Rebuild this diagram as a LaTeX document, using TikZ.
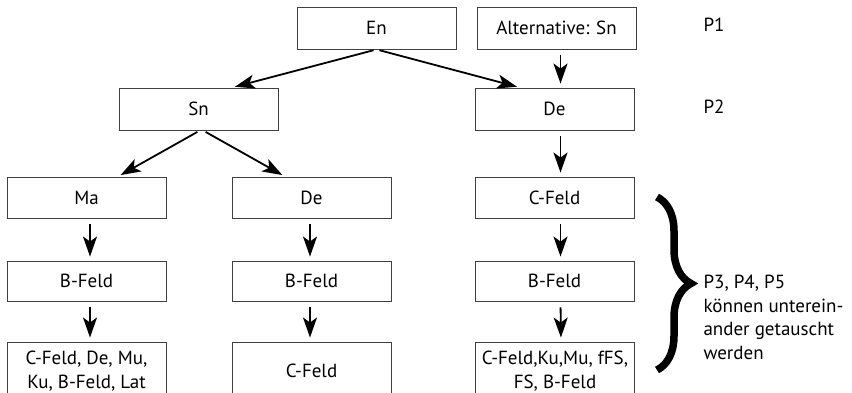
\documentclass[tikz,border=0pt]{standalone}
\usepackage{fontspec}
\setmainfont{PT Sans}
\usetikzlibrary{positioning}
\usetikzlibrary{arrows.meta}
\usetikzlibrary{decorations.pathreplacing}
\tikzset{
    mybox/.style = {rectangle, draw=black!75, line width=0.9pt, minimum width=159pt, minimum height=41pt, inner sep=2pt, align=center, font=\fontsize{19}{23.5}\selectfont},
    mylabel/.style = {anchor=west, align=left, font=\fontsize{19}{23.5}\selectfont},
    edgen/.style = {-{Stealth[length=20pt,width=14pt,inset=5pt]}, line width=1.8pt, shorten <=3pt, shorten >=3pt},
    edgev/.style = {edgen, shorten <=6pt, shorten >=4pt},
    bracen/.style = {decorate, decoration={brace, amplitude=34pt}, line width=7.5pt},
}

\begin{document}
\begin{tikzpicture}[x=1pt, y=-1pt]
\useasboundingbox (0,0) rectangle (852,393);
% level P1
\node[mybox, minimum height=42pt] at (376.5, 28) (en) {En};
\node[mybox, minimum height=42pt] at (556.5, 28) (alt) {Alternative: Sn};
% level P2
\node[mybox, minimum height=42pt] at (198.5, 109) (sn) {Sn};
\node[mybox, minimum height=42pt] at (554.5, 109) (der) {De};
% third row
\node[mybox] at (86.5, 197.5) (ma) {Ma};
\node[mybox] at (311.5, 197.5) (del) {De};
\node[mybox] at (554.5, 197.5) (cfr) {C-Feld};
% fourth row
\node[mybox, minimum height=40pt] at (86.5, 281) (bfa) {B-Feld};
\node[mybox, minimum height=40pt] at (311.5, 281) (bfb) {B-Feld};
\node[mybox, minimum height=40pt] at (554.5, 281) (bfc) {B-Feld};
% last row
\node[mybox, minimum height=58pt] at (86.5, 371) (ea) {C-Feld, De, Mu,\\Ku, B-Feld, Lat};
\node[mybox, minimum height=58pt] at (311.5, 371) (eb) {C-Feld};
\node[mybox, minimum height=58pt] at (555, 371) (ec) {C-Feld,Ku,Mu, fFS,\\FS, B-Feld};
%
\node[mylabel] at (700, 25) (pa) {P1};
\node[mylabel] at (700, 107) (pb) {P2};
\node[mylabel] at (700, 317.5) (pc) {P3, P4, P5\\können unterein-\\ander getauscht\\werden};
%
\draw[edgen] (en.south) -- ([xshift=33.5pt]sn.north);
\draw[edgen] (en.south) -- ([xshift=-34.5pt]der.north);
\draw[edgev] ([xshift=4pt]alt.south) -- ([xshift=6pt]der.north);
\draw[edgen] ([xshift=1.5pt]sn.south) -- ([xshift=31.5pt]ma.north);
\draw[edgen] ([xshift=4.5pt]sn.south) -- ([xshift=-26.5pt]del.north);
\draw[edgev] ([xshift=6pt]der.south) -- ([xshift=6pt]cfr.north);
\draw[edgev] ([xshift=3.5pt]ma.south) -- ([xshift=3.5pt]bfa.north);
\draw[edgev] ([xshift=3.5pt]bfa.south) -- ([xshift=3.5pt]ea.north);
\draw[edgev] ([xshift=-1.5pt]del.south) -- ([xshift=-1.5pt]bfb.north);
\draw[edgev] ([xshift=-1.5pt]bfb.south) -- ([xshift=-1.5pt]eb.north);
\draw[edgev] ([xshift=6pt]cfr.south) -- ([xshift=6pt]bfc.north);
\draw[edgev] ([xshift=6pt]bfc.south) -- ([xshift=6pt]ec.north);
%
\coordinate (bt) at (657, 197);
\coordinate (bb) at (657, 370);
\draw[bracen] (bt) -- (bb);
\end{tikzpicture}
\end{document}
